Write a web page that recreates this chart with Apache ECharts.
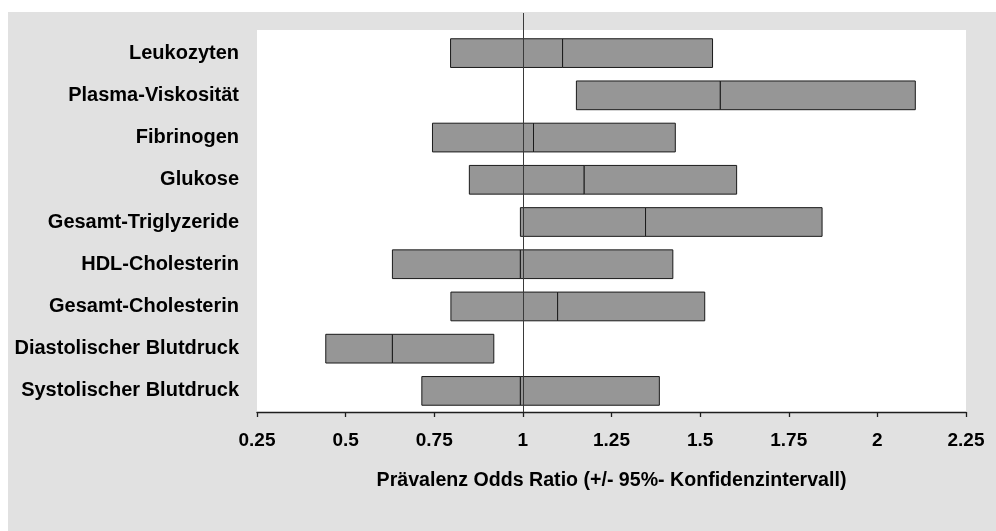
<!DOCTYPE html>
<html>
<head>
<meta charset="utf-8">
<script src="https://cdn.jsdelivr.net/npm/echarts@6/dist/echarts.min.js"></script>
<style>
  html, body { margin: 0; padding: 0; background: #ffffff; }
  #chart { width: 996px; height: 531px; }
</style>
</head>
<body>
<div id="chart"></div>
<script>
// Risk factors, listed top to bottom
const categories = [
  'Leukozyten',
  'Plasma-Viskosität',
  'Fibrinogen',
  'Glukose',
  'Gesamt-Triglyzeride',
  'HDL-Cholesterin',
  'Gesamt-Cholesterin',
  'Diastolischer Blutdruck',
  'Systolischer Blutdruck'
];
// Prevalence odds ratio with lower / upper 95% confidence limits
const lowerCI   = [0.796, 1.151, 0.745, 0.849, 0.993, 0.632, 0.797, 0.444, 0.715];
const oddsRatio = [1.112, 1.557, 1.030, 1.173, 1.346, 0.993, 1.098, 0.632, 0.993];
const upperCI   = [1.535, 2.107, 1.430, 1.603, 1.844, 1.423, 1.513, 0.918, 1.385];
// Axis range and the no-effect reference value
const axisMin = 0.25;
const axisMax = 2.25;
const axisStep = 0.25;
const referenceValue = 1;

const FONT = '"Liberation Sans", Arial, sans-serif';

const barData = categories.map((c, i) => [i, lowerCI[i], oddsRatio[i], upperCI[i]]);

const chart = echarts.init(document.getElementById('chart'), null, { renderer: 'canvas' });

chart.setOption({
  animation: false,
  backgroundColor: 'transparent',
  graphic: [
    {
      // grey frame behind the whole chart
      type: 'rect',
      left: 8, top: 12,
      shape: { width: 988, height: 519 },
      style: { fill: '#e1e1e1' },
      z: -10, silent: true
    },
    {
      // white plotting panel
      type: 'rect',
      left: 257, top: 30,
      shape: { width: 709, height: 382 },
      style: { fill: '#ffffff' },
      z: -9, silent: true
    }
  ],
  grid: {
    left: 257, right: 30, top: 32, bottom: 119,
    show: false
  },
  xAxis: {
    type: 'value',
    min: axisMin, max: axisMax, interval: axisStep,
    name: 'Prävalenz Odds Ratio (+/- 95%- Konfidenzintervall)',
    nameLocation: 'middle',
    nameGap: 59,
    nameTextStyle: { fontFamily: FONT, fontWeight: 'bold', fontSize: 19.6, color: '#000' },
    axisLine: { show: true, lineStyle: { color: '#1e1e1e', width: 1.3 } },
    axisTick: { show: true, length: 5, lineStyle: { color: '#1e1e1e', width: 1.3 } },
    axisLabel: { fontFamily: FONT, fontWeight: 'bold', fontSize: 19, color: '#000', margin: 19 },
    splitLine: { show: false }
  },
  yAxis: {
    type: 'category',
    data: categories,
    inverse: true,
    axisLine: { show: false },
    axisTick: { show: false },
    axisLabel: {
      fontFamily: FONT, fontWeight: 'bold', fontSize: 20, color: '#000',
      margin: 18, padding: [0, 0, 4, 0]
    }
  },
  series: [
    {
      type: 'custom',
      data: barData,
      encode: { y: 0, x: [1, 2, 3] },
      clip: false,
      renderItem: function (params, api) {
        const cat = api.value(0);
        const pLow = api.coord([api.value(1), cat]);
        const pMid = api.coord([api.value(2), cat]);
        const pHigh = api.coord([api.value(3), cat]);
        const h = api.size([0, 1])[1] * 0.68;
        const y = pLow[1] - h / 2;
        const style = { fill: '#969696', stroke: '#1a1a1a', lineWidth: 1 };
        return {
          type: 'group',
          children: [
            { type: 'rect', shape: { x: pLow[0], y: y, width: pMid[0] - pLow[0], height: h }, style: style },
            { type: 'rect', shape: { x: pMid[0], y: y, width: pHigh[0] - pMid[0], height: h }, style: style }
          ]
        };
      },
      z: 2
    },
    {
      // vertical reference line at odds ratio = 1, running up into the frame
      type: 'custom',
      data: [[referenceValue, 0]],
      encode: { x: 0, y: 1 },
      clip: false,
      renderItem: function (params, api) {
        const x = Math.round(api.coord([api.value(0), 0])[0]) + 0.5;
        const cs = params.coordSys;
        return {
          type: 'line',
          shape: { x1: x, y1: 13, x2: x, y2: cs.y + cs.height },
          style: { stroke: '#3a3a3a', lineWidth: 1 }
        };
      },
      z: 3
    }
  ]
});
</script>
</body>
</html>
